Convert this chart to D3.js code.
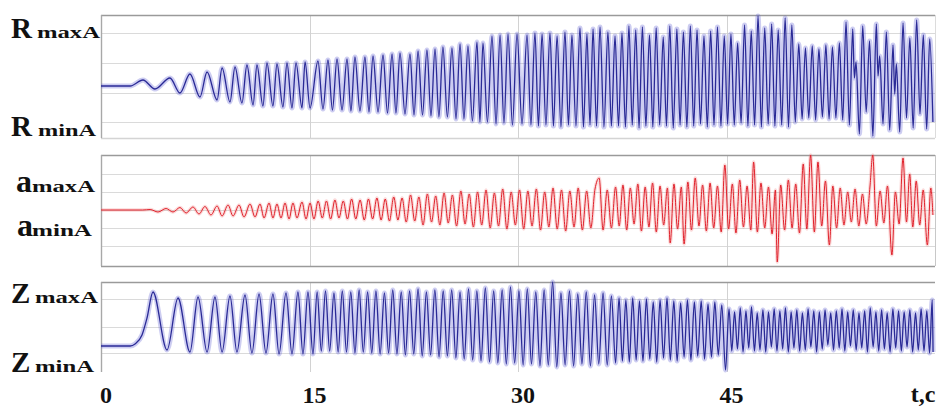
<!DOCTYPE html>
<html>
<head>
<meta charset="utf-8">
<script src="https://cdn.jsdelivr.net/npm/d3@7"></script>
<style>
  html, body { margin: 0; padding: 0; background: #fff; }
  svg { display: block; }
  text { font-family: "Liberation Serif", "Times New Roman", serif; font-weight: bold; fill: #111; }
</style>
</head>
<body>
<svg id="chart" width="942" height="409"></svg>
<script>
// Time axis (seconds)
const timeTicks = [0, 15, 30, 45];
const timeUnitLabel = "t,c";

// Extrema of the R oscillation: [time s, relative level]
const rSamples = [
  [0,0],[2.1,0],[3.02,0.6],[3.88,-0.3],[4.96,0.8],[5.68,-0.7],[6.40,1.2],[7.12,-1.1],[7.63,1.4],[8.35,-1.4],
  [8.71,1.8],[9.28,-1.6],[9.64,1.9],[10.14,-1.7],[10.50,2.1],[10.94,-1.9],[11.22,2.1],[11.65,-2.0],[11.94,2.3],[12.37,-2.0],
  [12.66,2.2],[13.09,-2.1],[13.38,2.3],[13.74,-2.2],[14.03,2.3],[14.46,-2.2],[14.68,2.4],[15.04,-2.2],
  [15.61,2.5],[15.97,-2.3],[16.33,2.6],[16.65,-2.4],[16.98,2.7],[17.34,-2.4],[17.70,2.7],[17.98,-2.5],[18.27,2.9],[18.63,-2.5],
  [18.99,2.9],[19.28,-2.6],[19.57,3.0],[19.93,-2.6],[20.29,3.1],[20.61,-2.7],[20.94,3.2],[21.22,-2.7],[21.51,3.3],[21.87,-2.8],
  [22.23,3.2],[22.52,-2.9],[22.81,3.5],[23.13,-2.9],[23.45,3.6],[23.74,-3.0],[24.03,3.7],[24.31,-3.1],[24.60,3.9],[24.92,-3.1],
  [25.25,3.8],[25.54,-3.3],[25.83,4.2],[26.11,-3.3],[26.40,4.0],[26.72,-3.5],[27.05,4.4],[27.26,-3.6],[27.48,4.3],[27.80,-3.6],
  [28.13,5.0],[28.42,-3.8],[28.71,5.1],[28.99,-3.7],[29.28,5.2],[29.60,-3.9],[29.93,5.2],[30.29,-3.8],[30.65,5.1],[30.93,-3.9],
  [31.22,5.3],[31.47,-4.0],[31.73,5.2],[32.01,-3.9],[32.30,5.3],[32.55,-4.0],[32.81,5.0],[33.09,-4.1],[33.38,5.4],[33.63,-3.9],
  [33.88,5.1],[34.17,-4.0],[34.46,5.8],[34.71,-4.1],[34.96,5.2],[35.18,-3.9],[35.40,5.7],[35.65,-4.0],[35.90,5.9],[36.18,-4.1],
  [36.47,5.4],[36.72,-4.0],[36.98,5.0],[37.23,-4.0],[37.48,5.3],[37.73,-4.1],[37.98,6.0],[38.22,-3.9],[38.47,5.6],[38.71,-4.2],
  [38.95,5.9],[39.20,-4.0],[39.46,5.1],[39.70,-4.1],[39.94,5.8],[40.19,-3.9],[40.45,4.9],[40.68,-4.0],[40.92,6.0],[41.17,-4.2],
  [41.43,5.7],[41.66,-3.9],[41.90,5.4],[42.15,-4.1],[42.40,6.0],[42.64,-4.0],[42.88,5.6],[43.13,-3.8],[43.38,5.0],[43.62,-4.1],
  [43.86,5.5],[44.10,-3.9],[44.35,5.9],[44.60,-4.0],[44.84,5.0],[45.08,-3.8],[45.32,5.2],[45.56,-3.9],[45.80,4.3],[46.05,-3.7],
  [46.30,6.1],[46.54,-4.0],[46.78,5.5],[47.02,-3.9],[47.27,7.0],[47.51,-4.1],[47.75,5.8],[48.00,-3.8],[48.25,6.2],[48.48,-4.0],
  [48.72,5.6],[48.97,-3.9],[49.22,6.8],[49.46,-4.1],[49.70,6.1],[49.95,-3.6],[50.20,4.2],[50.44,-3.3],[50.68,3.8],[50.92,-3.2],
  [51.17,4.0],[51.41,-3.4],[51.65,3.7],[51.90,-3.1],[52.15,4.1],[52.38,-3.3],[52.62,3.9],[52.87,-3.2],[53.12,4.3],[53.36,-3.4],
  [53.60,6.4],[53.84,-3.9],[54.08,5.7],[54.20,0.8],[54.32,2.4],[54.56,-4.8],[54.80,6.0],[55.05,-2.6],[55.29,4.5],[55.53,-5.0],
  [55.78,6.2],[55.90,1.0],[56.02,3.0],[56.26,-3.8],[56.50,5.4],[56.74,-4.4],[56.98,4.1],[57.10,-0.8],[57.22,2.2],[57.46,-4.6],
  [57.70,6.3],[57.95,-3.2],[58.19,4.8],[58.43,-4.2],[58.68,6.6],[58.92,-2.8],[59.16,5.1],[59.40,-4.3],[59.62,4.7],[59.85,-3.6]
];

// Extrema of the a oscillation: [time s, relative level]
const aSamples = [
  [0,0],[3.0,0],[3.53,0.05],[4.10,-0.2],[4.68,0.15],[5.18,-0.2],[5.68,0.25],[6.12,-0.3],[6.62,0.3],[7.05,-0.4],
  [7.48,0.35],[7.91,-0.5],[8.35,0.4],[8.71,-0.6],[9.14,0.5],[9.50,-0.6],[9.93,0.5],[10.29,-0.7],[10.72,0.6],[11.08,-0.7],
  [11.44,0.6],[11.73,-0.8],[12.09,0.7],[12.37,-0.8],[12.66,0.6],[12.95,-0.8],[13.24,0.7],[13.53,-0.9],[13.81,0.7],[14.10,-0.8],
  [14.46,0.8],[14.75,-0.9],[15.04,0.7],[15.32,-0.9],[15.62,0.9],[15.92,-0.8],[16.22,0.9],[16.52,-0.9],[16.83,1.0],[17.12,-0.8],
  [17.43,0.9],[17.73,-0.9],[18.03,1.1],[18.33,-0.9],[18.64,1.0],[18.94,-1.0],[19.24,1.1],[19.54,-0.9],[19.85,1.2],[20.15,-1.0],
  [20.45,1.1],[20.75,-1.1],[21.06,1.3],[21.36,-1.0],[21.66,1.2],[21.96,-1.2],[22.27,1.5],[22.57,-1.1],[22.87,1.3],[23.17,-1.5],
  [23.48,1.6],[23.78,-1.2],[24.08,1.4],[24.38,-1.5],[24.68,1.7],[24.98,-1.3],[25.28,1.5],[25.58,-1.6],[25.89,1.9],[26.19,-1.4],
  [26.49,1.6],[26.79,-1.7],[27.09,1.8],[27.39,-1.5],[27.70,2.0],[28.00,-1.8],[28.30,1.7],[28.60,-1.6],[28.90,2.1],[29.20,-1.9],
  [29.51,1.8],[29.81,-1.5],[30.11,2.0],[30.41,-1.9],[30.71,1.9],[31.01,-1.6],[31.32,2.1],[31.62,-2.0],[31.92,1.8],[32.22,-1.7],
  [32.52,2.2],[32.82,-1.9],[33.13,2.0],[33.43,-2.1],[33.73,1.9],[34.03,-1.7],[34.33,2.2],[34.63,-2.0],[34.94,1.9],[35.24,-1.8],
  [35.54,2.1],[35.84,3.2],[36.12,-2.0],[36.42,2.0],[36.72,-1.8],[37.02,2.3],[37.28,-1.6],[37.55,2.5],[37.82,-2.0],[38.08,2.2],
  [38.35,-1.4],[38.62,2.6],[38.88,-2.1],[39.15,2.3],[39.42,-1.7],[39.68,2.7],[39.95,-2.2],[40.22,2.4],[40.48,-1.5],[40.75,2.2],
  [40.95,-3.3],[41.22,2.6],[41.48,-1.9],[41.75,2.3],[41.95,-3.4],[42.22,2.8],[42.48,-2.0],[42.75,3.2],[43.02,-1.6],[43.28,2.5],
  [43.55,-2.1],[43.82,2.7],[44.08,-1.8],[44.35,2.4],[44.62,-2.2],[44.88,4.5],[45.15,-1.9],[45.42,2.6],[45.68,-2.3],[45.95,3.0],
  [46.22,-1.7],[46.48,2.4],[46.75,-2.0],[46.95,4.8],[47.22,-2.2],[47.48,2.7],[47.75,-1.8],[48.02,2.3],[48.28,-2.4],[48.52,2.0],
  [48.65,-5.2],[48.90,2.5],[49.18,-2.0],[49.45,3.0],[49.72,-1.8],[49.98,2.6],[50.25,-2.3],[50.52,4.6],[50.78,-1.9],[51.05,5.5],
  [51.32,-2.2],[51.58,4.8],[51.85,-1.6],[52.12,2.9],[52.40,-3.5],[52.65,2.4],[52.92,-1.8],[53.18,2.2],[53.45,-1.5],[53.72,1.8],
  [53.98,-1.2],[54.25,2.1],[54.52,-1.6],[54.78,1.6],[55.05,-1.4],[55.32,2.3],[55.52,5.5],[55.78,-1.6],[56.05,1.9],[56.32,-1.3],
  [56.58,2.4],[56.90,-4.5],[57.15,1.8],[57.42,-1.4],[57.70,5.2],[57.95,-1.2],[58.18,3.6],[58.40,-1.7],[58.65,2.9],[58.90,-1.5],
  [59.15,2.0],[59.45,-3.5],[59.70,2.2],[59.85,-0.5]
];

// Extrema of the Z oscillation: [time s, relative level]
const zSamples = [
  [0,0],[2.1,0],[2.45,0.2],[2.95,1.1],[3.31,2.8],[3.74,5.4],[4.75,-0.4],[5.54,4.8],[6.40,-0.6],[6.98,4.9],
  [7.63,-0.6],[8.20,4.9],[8.71,-0.6],[9.28,5.0],[9.78,-0.6],[10.36,5.1],[10.86,-0.7],[11.37,5.2],[11.87,-0.7],[12.37,5.2],
  [12.81,-0.8],[13.31,5.3],[13.74,-0.8],[14.17,5.4],[14.53,-0.8],[14.89,5.4],[15.25,-0.8],[15.55,5.4],[15.85,-0.5],[16.15,5.5],
  [16.45,-0.5],[16.76,5.3],[17.06,-0.6],[17.36,5.5],[17.66,-0.6],[17.97,5.4],[18.27,-0.7],[18.57,5.6],[18.87,-0.6],[19.18,5.4],
  [19.48,-0.7],[19.78,5.5],[20.08,-0.8],[20.39,5.3],[20.69,-0.7],[20.99,5.6],[21.29,-0.8],[21.60,5.4],[21.90,-0.9],[22.20,5.5],
  [22.50,-0.8],[22.81,5.7],[23.11,-1.0],[23.41,5.4],[23.71,-0.9],[24.02,5.6],[24.32,-1.1],[24.62,5.5],[24.92,-1.0],[25.23,5.6],
  [25.53,-1.2],[25.83,5.4],[26.13,-1.3],[26.44,5.7],[26.74,-1.4],[27.04,5.5],[27.34,-1.5],[27.65,5.8],[27.95,-1.6],[28.25,5.5],
  [28.55,-1.7],[28.86,5.6],[29.16,-1.8],[29.46,5.9],[29.76,-1.7],[30.07,5.5],[30.37,-1.9],[30.67,5.7],[30.97,-1.8],[31.28,5.4],
  [31.58,-2.0],[31.88,5.6],[32.18,-1.9],[32.49,6.4],[32.79,-2.1],[33.09,5.3],[33.39,-1.9],[33.70,5.5],[34.00,-2.0],[34.30,5.2],
  [34.60,-1.8],[34.91,5.4],[35.21,-2.0],[35.51,5.1],[35.81,-1.8],[36.12,5.3],[36.42,-1.9],[36.72,5.0],[37.02,-1.7],[37.27,4.8],
  [37.51,-1.5],[37.76,4.6],[38.01,-1.6],[38.25,4.8],[38.50,-1.4],[38.74,4.5],[38.99,-1.5],[39.24,4.7],[39.48,-1.3],[39.73,4.4],
  [39.98,-1.6],[40.22,4.6],[40.47,-1.2],[40.72,4.8],[40.96,-1.4],[41.21,4.5],[41.45,-1.5],[41.70,4.3],[41.95,-1.1],[42.19,4.6],
  [42.44,-1.4],[42.69,4.4],[42.93,-1.0],[43.18,4.5],[43.42,-1.3],[43.67,4.2],[43.92,-1.1],[44.16,4.4],[44.41,-0.9],[44.66,4.1],
  [44.93,-2.4],[45.18,3.7],[45.38,-0.5],[45.58,3.4],[45.79,-0.3],[45.99,3.8],[46.19,-0.6],[46.40,3.5],[46.60,-0.2],[46.80,3.9],
  [47.01,-0.5],[47.21,3.3],[47.41,-0.4],[47.62,3.6],[47.82,-0.6],[48.02,3.4],[48.23,-0.1],[48.43,3.7],[48.63,-0.5],[48.84,3.5],
  [49.04,-0.3],[49.24,3.8],[49.45,-0.6],[49.65,3.4],[49.85,-0.2],[50.06,3.6],[50.26,-0.5],[50.46,3.3],[50.67,-0.4],[50.87,3.7],
  [51.07,-0.1],[51.28,3.5],[51.48,-0.6],[51.68,3.4],[51.89,-0.3],[52.09,3.6],[52.29,0.1],[52.50,3.3],[52.70,-0.4],[52.90,3.5],
  [53.11,-0.2],[53.31,3.7],[53.51,-0.5],[53.72,3.4],[53.92,0.0],[54.12,3.6],[54.33,-0.4],[54.53,3.3],[54.73,-0.2],[54.94,3.5],
  [55.14,-0.6],[55.34,3.8],[55.55,-0.1],[55.75,3.4],[55.95,-0.5],[56.16,3.6],[56.36,-0.3],[56.56,3.3],[56.77,-0.6],[56.97,3.7],
  [57.17,-0.2],[57.38,3.5],[57.58,-0.5],[57.78,3.4],[57.99,-0.1],[58.19,3.6],[58.39,-0.6],[58.60,3.3],[58.80,-0.4],[59.00,3.7],
  [59.21,-0.5],[59.41,3.5],[59.61,-0.7],[59.80,4.6],[59.86,-0.6]
];

// Horizontal grid levels of each strip
const rGrid = [5.3, 2.3, -0.7, -3.6];
const aGrid = [3.6, 1.8, 0, -1.8, -3.6];
const zGrid = [4.7, 1.9, -0.7];

// Strip captions: main letter + subscript
const rLabels = [["R", "maxA"], ["R", "minA"]];
const aLabels = [["a", "maxA"], ["a", "minA"]];
const zLabels = [["Z", "maxA"], ["Z", "minA"]];

const svg = d3.select("#chart");
const x = d3.scaleLinear().domain([0, 60]).range([101, 935]);

const strips = [
  { samples: rSamples, grid: rGrid, labels: rLabels, domain: [-5.2, 7.1], top: 15, bottom: 138,
    stroke: "#2a2a96", halo: "rgba(100,100,210,0.32)", haloWidth: 5, width: 1.3, curve: d3.curveMonotoneX,
    bottomLine: "#d4d4d4", rightLine: "#dcdcdc",
    labelPos: [{ y: 38, lx: 11, sx: 37, sw: 63, fs: 29, ss: 17 }, { y: 136, lx: 11, sx: 38, sw: 58, fs: 29, ss: 17 }] },
  { samples: aSamples, grid: aGrid, labels: aLabels, domain: [-5.6, 5.5], top: 155, bottom: 266,
    stroke: "#e0222c", halo: "rgba(240,120,120,0.28)", haloWidth: 3.5, width: 1.0, curve: d3.curveMonotoneX,
    bottomLine: "#9a9a9a", rightLine: "#c8c8c8",
    labelPos: [{ y: 192, lx: 16, sx: 32, sw: 63, fs: 32, ss: 17 }, { y: 236, lx: 17, sx: 32, sw: 60, fs: 32, ss: 17 }] },
  { samples: zSamples, grid: zGrid, labels: zLabels, domain: [-2.6, 6.4], top: 282, bottom: 372,
    stroke: "#2a2a96", halo: "rgba(100,100,210,0.32)", haloWidth: 5, width: 1.3, curve: d3.curveMonotoneX,
    bottomLine: null, rightLine: null,
    labelPos: [{ y: 303, lx: 11, sx: 35, sw: 63, fs: 29, ss: 17 }, { y: 372, lx: 11, sx: 35, sw: 59, fs: 29, ss: 17 }] }
];

strips.forEach(s => {
  const y = d3.scaleLinear().domain(s.domain).range([s.bottom, s.top]);
  const g = svg.append("g");

  // grid
  g.selectAll(".hg").data(s.grid).join("line")
    .attr("x1", x(0)).attr("x2", x(60))
    .attr("y1", d => Math.round(y(d)) + 0.5).attr("y2", d => Math.round(y(d)) + 0.5)
    .attr("stroke", "#dadada").attr("stroke-width", 1);
  g.selectAll(".vg").data(timeTicks.slice(1)).join("line")
    .attr("x1", d => Math.round(x(d)) + 0.5).attr("x2", d => Math.round(x(d)) + 0.5)
    .attr("y1", s.top).attr("y2", s.bottom)
    .attr("stroke", "#d2d2d2").attr("stroke-width", 1);

  // frame
  if (s.bottomLine) g.append("line").attr("x1", x(0)).attr("x2", x(60))
    .attr("y1", s.bottom + 0.5).attr("y2", s.bottom + 0.5).attr("stroke", s.bottomLine).attr("stroke-width", 1.5);
  if (s.rightLine) g.append("line").attr("x1", x(60) + 0.5).attr("x2", x(60) + 0.5)
    .attr("y1", s.top).attr("y2", s.bottom).attr("stroke", s.rightLine);
  g.append("line").attr("x1", x(0)).attr("x2", x(60))
    .attr("y1", s.top + 0.5).attr("y2", s.top + 0.5).attr("stroke", "#9a9a9a").attr("stroke-width", 1.6);
  g.append("line").attr("x1", x(0) + 0.5).attr("x2", x(0) + 0.5)
    .attr("y1", s.top).attr("y2", s.bottom).attr("stroke", "#a8a8a8").attr("stroke-width", 1.4);

  // signal: soft underlay plus the trace itself
  const line = d3.line().x(d => x(d[0])).y(d => y(d[1])).curve(s.curve);
  g.append("path").datum(s.samples).attr("d", line)
    .attr("fill", "none").attr("stroke", s.halo).attr("stroke-width", s.haloWidth).attr("stroke-linejoin", "round");
  g.append("path").datum(s.samples).attr("d", line)
    .attr("fill", "none").attr("stroke", s.stroke).attr("stroke-width", s.width).attr("stroke-linejoin", "round");

  // captions
  s.labels.forEach((lab, i) => {
    const p = s.labelPos[i];
    svg.append("text").attr("x", p.lx).attr("y", p.y).attr("font-size", p.fs).text(lab[0]);
    svg.append("text").attr("x", p.sx).attr("y", p.y).attr("font-size", p.ss)
      .attr("textLength", p.sw).attr("lengthAdjust", "spacingAndGlyphs").text(lab[1]);
  });
});

// time axis labels
svg.selectAll(".tick").data(timeTicks).join("text")
  .attr("x", d => x(d) + 5).attr("y", 403)
  .attr("text-anchor", "middle").attr("font-size", 24).text(d => d);
svg.append("text").attr("x", 923).attr("y", 402).attr("text-anchor", "middle")
  .attr("font-size", 24).text(timeUnitLabel);
</script>
</body>
</html>
